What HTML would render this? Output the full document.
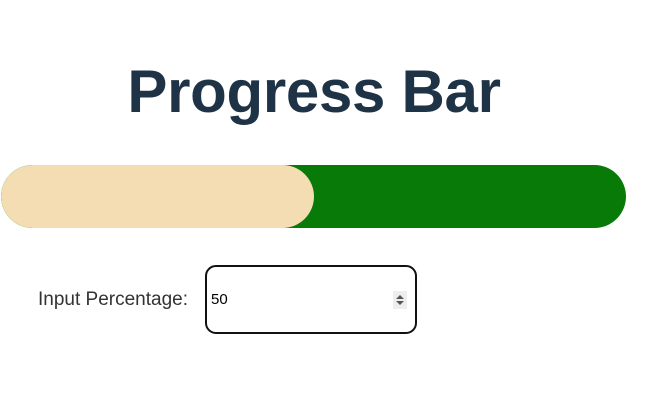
<!DOCTYPE html>
<html><head><meta charset="utf-8"><style>
body{margin:0;width:672px;height:410px;background:#fff;position:relative;overflow:hidden;font-family:"Liberation Sans",sans-serif;}
#title{position:absolute;left:0;width:628px;top:52px;text-align:center;font-size:60px;font-weight:bold;color:#1f3347;line-height:80px;margin:0;letter-spacing:-0.3px;}
#track{position:absolute;left:1px;top:165px;width:625px;height:63px;border-radius:32px;background:#087a08;overflow:hidden;}
#fill{position:absolute;left:0;top:0;height:63px;border-radius:32px;background:#f4ddb3;}
#label{position:absolute;left:38px;top:289px;font-size:19px;color:#333;}
#inp{position:absolute;left:205px;top:265px;width:208px;height:65px;border:2px solid #111;border-radius:11px;}
#val{position:absolute;left:4px;top:24px;font-size:15px;color:#000;}
#spin{position:absolute;right:8px;top:24px;width:14px;height:18px;background:#eee;}
</style></head><body>
<h1 id="title">Progress Bar</h1>
<div id="track"><div id="fill"></div></div>
<div id="label">Input Percentage:</div>
<div id="inp"><span id="val">50</span>
<svg id="spin" viewBox="0 0 14 18"><rect width="14" height="18" fill="#eee"/><path d="M3 8 L7 4 L11 8Z M3 10 L7 14 L11 10Z" fill="#555"/></svg></div>
<script>
const percent=[50];
document.getElementById('fill').style.width=(percent[0]/100*625)+'px';
</script>
</body></html>
